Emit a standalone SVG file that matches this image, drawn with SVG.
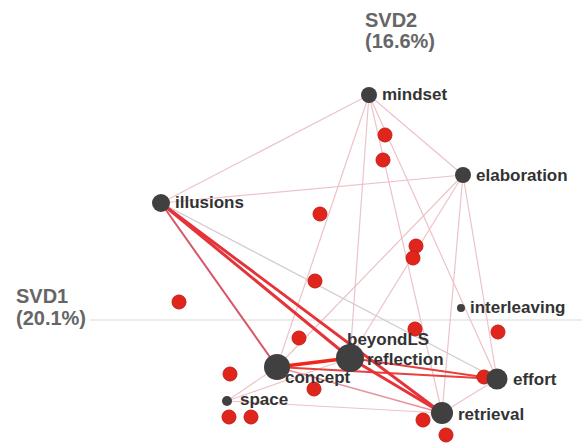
<svg xmlns="http://www.w3.org/2000/svg" width="582" height="446" viewBox="0 0 582 446">
<style>
.axis{font-family:"Liberation Sans",Arial,sans-serif;font-size:20px;font-weight:bold;fill:#666}
.lbl{font-family:"Liberation Sans",Arial,sans-serif;font-size:17px;font-weight:bold;fill:#333}
.node{fill:#404040}
.dot{fill:#e0251c;stroke:#c81d16;stroke-width:1}
.e{fill:none;stroke-linecap:round}
.faint{stroke:#ecc3c9;stroke-width:1.2}
.grey{stroke:#d6cacf;stroke-width:1.3}
.pink{stroke:#e6949e;stroke-width:1.6}
.mid{stroke:#d9566a;stroke-width:2}
.red{stroke:#e8403f;stroke-width:2.2}
.thick{stroke:#e5333a;stroke-width:3}
.bright{stroke:#f0261c;stroke-width:3.5}
</style>
<rect width="582" height="446" fill="#fff"/>
<line x1="90" y1="320" x2="582" y2="320" stroke="#ececec" stroke-width="2"/>
<g id="axis-labels">
<text class="axis" x="365" y="27">SVD2</text>
<text class="axis" x="365" y="48">(16.6%)</text>
<text class="axis" x="16" y="303">SVD1</text>
<text class="axis" x="16" y="325">(20.1%)</text>
</g>
<g id="connectors">
<line class="e faint" x1="369" y1="95" x2="161" y2="203"/>
<line class="e faint" x1="369" y1="95" x2="463" y2="175"/>
<line class="e faint" x1="161" y1="203" x2="463" y2="175"/>
<line class="e faint" x1="369" y1="95" x2="277" y2="367"/>
<line class="e faint" x1="369" y1="95" x2="350" y2="358"/>
<line class="e faint" x1="369" y1="95" x2="442" y2="413"/>
<line class="e faint" x1="369" y1="95" x2="497" y2="379"/>
<line class="e faint" x1="463" y1="175" x2="350" y2="358"/>
<line class="e faint" x1="463" y1="175" x2="277" y2="367"/>
<line class="e faint" x1="463" y1="175" x2="442" y2="413"/>
<line class="e faint" x1="463" y1="175" x2="497" y2="379"/>
<line class="e faint" x1="227" y1="401" x2="277" y2="367"/>
<line class="e faint" x1="227" y1="401" x2="350" y2="358"/>
<line class="e faint" x1="227" y1="401" x2="442" y2="413"/>
<line class="e faint" x1="442" y1="413" x2="497" y2="379"/>
<line class="e grey" x1="161" y1="203" x2="497" y2="379"/>
<line class="e pink" x1="277" y1="367" x2="442" y2="413"/>
<line class="e mid" x1="161" y1="203" x2="277" y2="367"/>
<line class="e red" x1="277" y1="367" x2="497" y2="379"/>
<line class="e red" x1="350" y1="358" x2="497" y2="379"/>
<line class="e thick" x1="161" y1="203" x2="350" y2="358"/>
<line class="e thick" x1="161" y1="203" x2="442" y2="413"/>
<line class="e thick" x1="350" y1="358" x2="442" y2="413"/>
<line class="e bright" x1="277" y1="367" x2="350" y2="358"/>
</g>
<g id="markers">
<circle class="dot" cx="385" cy="135" r="7"/>
<circle class="dot" cx="383" cy="160" r="7"/>
<circle class="dot" cx="320" cy="214" r="7"/>
<circle class="dot" cx="416" cy="246" r="7"/>
<circle class="dot" cx="413" cy="258" r="7"/>
<circle class="dot" cx="315" cy="281" r="7"/>
<circle class="dot" cx="179" cy="302" r="7"/>
<circle class="dot" cx="299" cy="338" r="7"/>
<circle class="dot" cx="498" cy="332" r="7"/>
<circle class="dot" cx="415" cy="329" r="7"/>
<circle class="dot" cx="230" cy="374" r="7"/>
<circle class="dot" cx="314" cy="389" r="7"/>
<circle class="dot" cx="484" cy="377" r="7"/>
<circle class="dot" cx="229" cy="417" r="7"/>
<circle class="dot" cx="251" cy="417" r="7"/>
<circle class="dot" cx="423" cy="420" r="7"/>
<circle class="dot" cx="446" cy="435" r="7"/>
</g>
<g id="node-mindset"><circle class="node" cx="369" cy="95" r="8"/><text class="lbl" x="382" y="100">mindset</text></g>
<g id="node-elaboration"><circle class="node" cx="463" cy="175" r="8"/><text class="lbl" x="476" y="181">elaboration</text></g>
<g id="node-illusions"><circle class="node" cx="161" cy="203" r="9"/><text class="lbl" x="175" y="208">illusions</text></g>
<g id="node-interleaving"><circle class="node" cx="461" cy="308" r="4"/><text class="lbl" x="470" y="313">interleaving</text></g>
<g id="node-beyondLS-reflection"><circle class="node" cx="350" cy="358" r="14"/><text class="lbl" x="347" y="345">beyondLS</text><text class="lbl" x="367" y="365">reflection</text></g>
<g id="node-concept"><circle class="node" cx="277" cy="367" r="13"/><text class="lbl" x="285" y="383">concept</text></g>
<g id="node-space"><circle class="node" cx="227" cy="401" r="5"/><text class="lbl" x="240" y="405">space</text></g>
<g id="node-effort"><circle class="node" cx="497" cy="379" r="10.5"/><text class="lbl" x="513" y="385">effort</text></g>
<g id="node-retrieval"><circle class="node" cx="442" cy="413" r="11"/><text class="lbl" x="458" y="420">retrieval</text></g>
</svg>
